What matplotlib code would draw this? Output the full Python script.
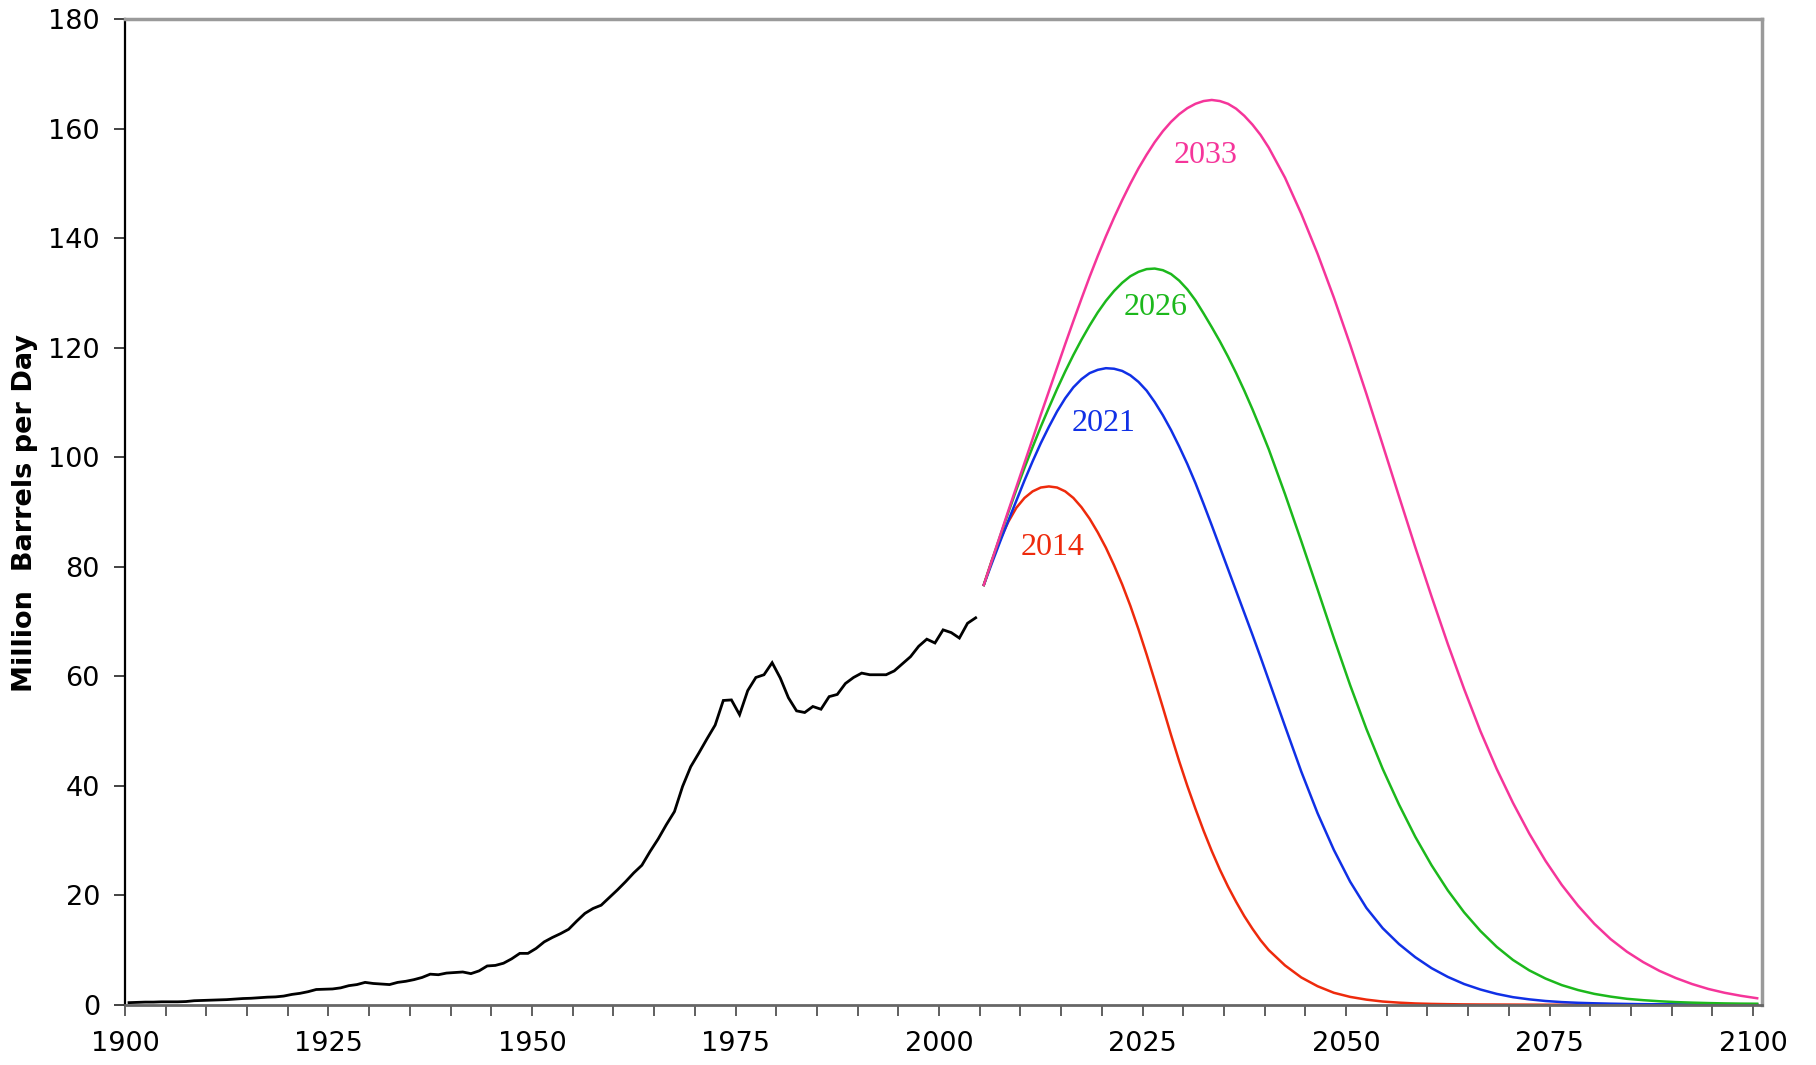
import numpy as np
import matplotlib
matplotlib.use("Agg")
import matplotlib.pyplot as plt
from matplotlib.ticker import FixedLocator, FixedFormatter


# historical world oil production, 1900-2004 (million barrels per day)
hist_years = np.arange(1900, 2005)
hist_prod = [
	0.4, 0.45, 0.5, 0.5, 0.55, 0.55, 0.55, 0.6, 0.75, 0.8,
	0.85, 0.9, 0.95, 1.05, 1.15, 1.2, 1.3, 1.4, 1.45, 1.6,
	1.9, 2.1, 2.4, 2.8, 2.85, 2.9, 3.1, 3.5, 3.7, 4.1,
	3.9, 3.8, 3.7, 4.1, 4.3, 4.6, 5.0, 5.6, 5.5, 5.8,
	5.9, 6.0, 5.7, 6.2, 7.1, 7.2, 7.6, 8.4, 9.4, 9.4,
	10.3, 11.5, 12.3, 13.0, 13.8, 15.3, 16.7, 17.6, 18.2, 19.6,
	21.0, 22.5, 24.1, 25.5, 28.0, 30.3, 32.9, 35.3, 39.9, 43.5,
	46.0, 48.6, 51.1, 55.6, 55.7, 53.0, 57.4, 59.8, 60.3, 62.5,
	59.7, 56.1, 53.7, 53.4, 54.5, 54.0, 56.3, 56.7, 58.7, 59.8,
	60.6, 60.3, 60.3, 60.3, 61.0, 62.3, 63.6, 65.5, 66.8, 66.1,
	68.5, 68.0, 67.0, 69.7, 70.7,
]

# forecast scenarios, named after their peak year
# yearly up to 2040, every second year after that
fc_years = list(range(2005, 2041)) + list(range(2042, 2101, 2))
peak_2014 = [
	76.7, 81.2, 85.0, 88.2, 90.8, 92.6, 93.8, 94.5, 94.7, 94.5,
	93.8, 92.6, 90.9, 88.8, 86.3, 83.5, 80.3, 76.8, 72.9, 68.6,
	64.0, 59.2, 54.3, 49.3, 44.5, 40.0, 35.8, 31.8, 28.1, 24.7,
	21.6, 18.8, 16.2, 13.9, 11.8, 10.0,
	7.2, 5.0, 3.4, 2.2, 1.45, 0.95, 0.6, 0.4, 0.25, 0.17,
	0.12, 0.08, 0.06, 0.05, 0.04, 0.03, 0.02, 0.02, 0.02, 0.02,
	0.01, 0.01, 0.01, 0.01, 0.01, 0.01, 0.01, 0.01, 0.01, 0.01,
]
peak_2021 = [
	76.7, 80.7, 84.6, 88.4, 92.1, 95.8, 99.3, 102.6, 105.6, 108.4,
	110.8, 112.8, 114.3, 115.4, 116.0, 116.3, 116.2, 115.8, 115.0, 113.8,
	112.2, 110.1, 107.7, 105.0, 102.0, 98.8, 95.3, 91.5, 87.6, 83.6,
	79.6, 75.6, 71.6, 67.6, 63.5, 59.3,
	50.9, 42.6, 35.0, 28.3, 22.5, 17.7, 14.0, 11.1, 8.7, 6.7,
	5.1, 3.8, 2.8, 2.0, 1.4, 1.0, 0.7, 0.5, 0.37, 0.28,
	0.21, 0.16, 0.12, 0.1, 0.08, 0.06, 0.05, 0.04, 0.03, 0.03,
]
peak_2026 = [
	76.7, 81.2, 85.6, 89.9, 94.1, 98.1, 101.9, 105.6, 109.1, 112.5,
	115.7, 118.7, 121.5, 124.1, 126.5, 128.6, 130.4, 131.9, 133.1, 133.9,
	134.4, 134.5, 134.2, 133.5, 132.3, 130.7, 128.7, 126.3, 123.8, 121.2,
	118.4, 115.4, 112.2, 108.8, 105.2, 101.5,
	93.3, 84.7, 75.9, 67.0, 58.4, 50.4, 43.1, 36.6, 30.7, 25.5,
	20.9, 16.9, 13.5, 10.6, 8.2, 6.3, 4.8, 3.6, 2.7, 2.0,
	1.5, 1.1, 0.85, 0.65, 0.5, 0.4, 0.32, 0.26, 0.22, 0.2,
]
peak_2033 = [
	76.7, 81.2, 85.7, 90.2, 94.6, 99.0, 103.4, 107.8, 112.1, 116.4,
	120.7, 124.9, 129.0, 133.0, 136.8, 140.4, 143.8, 147.0, 150.0, 152.8,
	155.3, 157.6, 159.6, 161.3, 162.7, 163.8, 164.6, 165.1, 165.3, 165.1,
	164.6, 163.7, 162.4, 160.8, 158.9, 156.6,
	151.1, 144.5, 137.2, 129.2, 120.6, 111.6, 102.3, 92.9, 83.6, 74.6,
	65.9, 57.7, 50.0, 43.1, 36.9, 31.3, 26.3, 21.9, 18.1, 14.8,
	12.0, 9.7, 7.8, 6.2, 4.9, 3.8, 2.9, 2.2, 1.65, 1.2,
]

scenario_names = ["2014", "2021", "2026", "2033"]
scenario_values = [peak_2014, peak_2021, peak_2026, peak_2033]
scenario_colors = ["#ee2a0c", "#1030e6", "#1cb81c", "#f5359a"]
# where each scenario label sits (year, value)
label_pos = [(2013.5, 83.6), (2019.7, 106.2), (2026.1, 127.3), (2032.2, 155.2)]

tick_years = np.arange(1900, 2101, 5)
ylabel = "Million  Barrels per Day"


def main():
	fig = plt.figure(figsize=(18.16, 10.65), dpi=100)
	ax = fig.add_axes([0.0688, 0.0565, 0.9015, 0.9252])

	ax.plot(hist_years, hist_prod, color="black", lw=2.0, solid_joinstyle="miter")

	for name, vals, col, (lx, ly) in zip(scenario_names, scenario_values, scenario_colors, label_pos):
		ax.plot(fc_years, vals, color=col, lw=1.8)
		ax.text(lx, ly, name, color=col, fontsize=23, family="Liberation Serif",
			ha="center", va="center")

	# Excel category axis: tick marks sit half a year before each labelled year
	ax.set_xlim(1899.5, 2100.6)
	ax.set_ylim(0, 180)
	ax.xaxis.set_major_locator(FixedLocator(tick_years - 0.5))
	ax.xaxis.set_major_formatter(FixedFormatter(
		[str(y) if y % 25 == 0 else "" for y in tick_years]))
	ax.set_yticks(np.arange(0, 181, 20))

	ax.tick_params(axis="x", direction="out", length=8, width=1.2, color="#444444",
		labelsize=19.5, pad=11)
	ax.tick_params(axis="y", direction="out", length=8, width=1.2, color="#222222",
		labelsize=19.5, pad=10)

	ax.spines["left"].set_color("black")
	ax.spines["left"].set_linewidth(1.6)
	ax.spines["bottom"].set_color("#666666")
	ax.spines["bottom"].set_linewidth(2)
	for side in ["top", "right"]:
		ax.spines[side].set_color("#9a9a9a")
		ax.spines[side].set_linewidth(2.5)

	fig.text(25 / 1816, 1 - 513 / 1065, ylabel, rotation=90, fontsize=19.5,
		fontweight="bold", ha="center", va="center")

	plt.savefig("out.png", dpi=100)
	plt.close()


if __name__ == "__main__":
	main()
